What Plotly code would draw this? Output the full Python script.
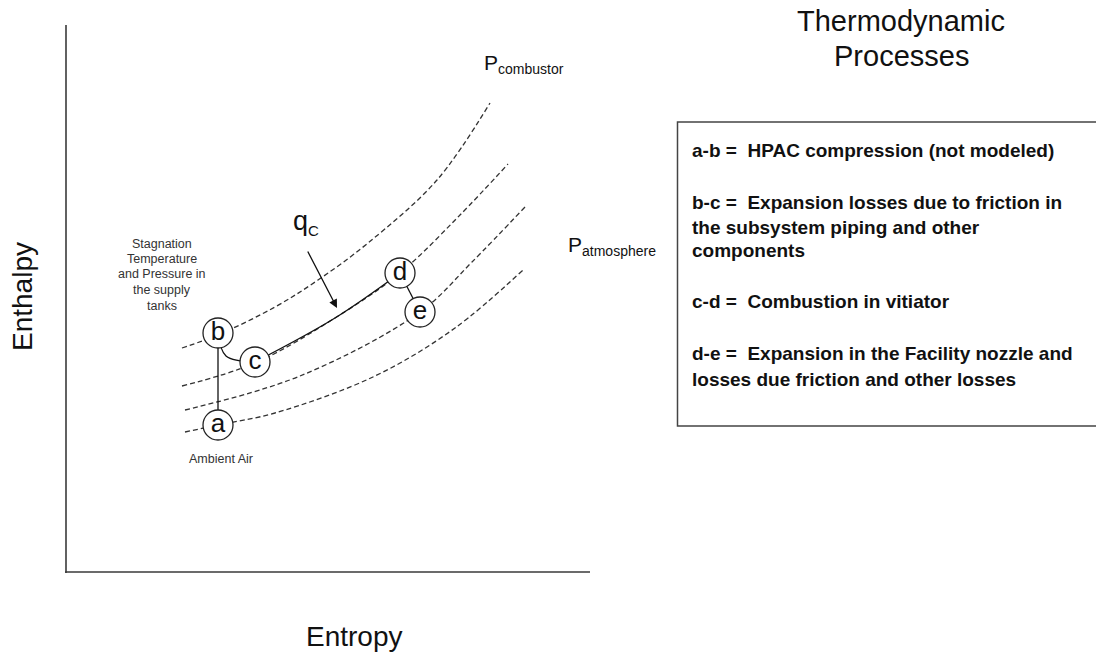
import plotly.graph_objects as go

# Canvas units (pixels of a 1096 x 654 drawing, y grows downward)
W, H = 1096, 654

# Constant-pressure (isobar) dashed curves
isobar1_x = [182, 220, 275, 318, 368, 437, 490]
isobar1_y = [348, 334, 307, 280, 243, 180, 103]
isobar2_x = [182, 255, 335, 400, 460, 508]
isobar2_y = [386, 363, 318, 273, 215, 164]
isobar3_x = [185, 300, 420, 472, 525]
isobar3_y = [410, 376, 312, 262, 207]
isobar4_x = [185, 218, 275, 375, 455, 523]
isobar4_y = [432, 425, 413, 376, 328, 270]

# State points
state_labels = ["a", "b", "c", "d", "e"]
state_x = [218, 218, 255, 400, 420]
state_y = [425, 333, 362, 273, 312]

# Process paths
ab_x, ab_y = [218, 218], [425, 333]
bc_x, bc_y = [218, 226, 255], [333, 356, 362]
cd_x, cd_y = [255, 335, 400], [362, 318, 273]
de_x, de_y = [400, 420], [273, 312]

# Axes of the diagram
yaxis_line_x, yaxis_line_y = [66, 66], [25, 573]
xaxis_line_x, xaxis_line_y = [65, 590], [572, 572]

stagnation_lines = ["Stagnation", "Temperature", "and Pressure in", "the supply", "tanks"]
stagnation_y = [244, 259, 274, 290, 306]

process_lines = [
    "a-b =  HPAC compression (not modeled)",
    "b-c =  Expansion losses due to friction in",
    "the subsystem piping and other",
    "components",
    "c-d =  Combustion in vitiator",
    "d-e =  Expansion in the Facility nozzle and",
    "losses due friction and other losses",
]
process_y = [150, 202, 227, 250, 301, 353, 379]

FONT = "Liberation Sans, Arial, sans-serif"

fig = go.Figure()

dash_style = dict(color="#333333", width=1.3, dash="5px,3px", shape="spline")
for xs, ys in [(isobar1_x, isobar1_y), (isobar2_x, isobar2_y),
               (isobar3_x, isobar3_y), (isobar4_x, isobar4_y)]:
    fig.add_trace(go.Scatter(x=xs, y=ys, mode="lines", line=dash_style,
                             hoverinfo="skip", showlegend=False))

# axis lines
for xs, ys in [(yaxis_line_x, yaxis_line_y), (xaxis_line_x, xaxis_line_y)]:
    fig.add_trace(go.Scatter(x=xs, y=ys, mode="lines",
                             line=dict(color="#3a3a3a", width=1.6),
                             hoverinfo="skip", showlegend=False))

for xs, ys, shp in [(ab_x, ab_y, "linear"), (bc_x, bc_y, "spline"),
                    (cd_x, cd_y, "spline"), (de_x, de_y, "linear")]:
    fig.add_trace(go.Scatter(x=xs, y=ys, mode="lines",
                             line=dict(color="#111111", width=1.3, shape=shp),
                             hoverinfo="skip", showlegend=False))

# state circles
fig.add_trace(go.Scatter(
    x=state_x, y=state_y, mode="markers+text", text=state_labels,
    textposition="middle center",
    textfont=dict(family=FONT, size=26, color="#111111"),
    marker=dict(size=30, color="white", line=dict(color="#222222", width=1.3)),
    hoverinfo="skip", showlegend=False))

ann = []
# heat addition arrow
ann.append(dict(x=337, y=308, ax=307, ay=250, xref="x", yref="y", axref="x", ayref="y",
                showarrow=True, arrowhead=2, arrowsize=1.3, arrowwidth=1.3,
                arrowcolor="#111111", text=""))
ann.append(dict(x=291, y=222, xref="x", yref="y", xanchor="left", yanchor="middle",
                showarrow=False,
                text='q<sub><span style="font-size:15px">C</span></sub>',
                font=dict(family=FONT, size=27, color="#111111")))
ann.append(dict(x=482, y=64, xref="x", yref="y", xanchor="left", yanchor="middle",
                showarrow=False,
                text='P<sub><span style="font-size:14px">combustor</span></sub>',
                font=dict(family=FONT, size=21, color="#111111")))
ann.append(dict(x=566, y=246, xref="x", yref="y", xanchor="left", yanchor="middle",
                showarrow=False,
                text='P<sub><span style="font-size:14px">atmosphere</span></sub>',
                font=dict(family=FONT, size=21, color="#111111")))
for t, yy in zip(stagnation_lines, stagnation_y):
    ann.append(dict(x=162, y=yy, xref="x", yref="y", showarrow=False, text=t,
                    font=dict(family=FONT, size=12.5, color="#333333")))
ann.append(dict(x=221, y=459, xref="x", yref="y", showarrow=False, text="Ambient Air",
                font=dict(family=FONT, size=12.5, color="#333333")))
ann.append(dict(x=22, y=297, xref="x", yref="y", showarrow=False, text="Enthalpy",
                textangle=-90, font=dict(family=FONT, size=28, color="#111111")))
ann.append(dict(x=354, y=636, xref="x", yref="y", showarrow=False, text="Entropy",
                font=dict(family=FONT, size=28, color="#111111")))
ann.append(dict(x=901, y=21, xref="x", yref="y", showarrow=False, text="Thermodynamic",
                font=dict(family=FONT, size=29, color="#111111")))
ann.append(dict(x=901, y=56, xref="x", yref="y", showarrow=False, text="Processes",
                font=dict(family=FONT, size=29, color="#111111")))
for t, yy in zip(process_lines, process_y):
    ann.append(dict(x=690, y=yy, xref="x", yref="y", xanchor="left", yanchor="middle",
                    showarrow=False, text="<b>" + t + "</b>",
                    font=dict(family=FONT, size=19, color="#111111")))

fig.update_layout(
    width=W, height=H,
    margin=dict(l=0, r=0, t=0, b=0),
    paper_bgcolor="white", plot_bgcolor="white",
    xaxis=dict(range=[0, W], visible=False, fixedrange=True),
    yaxis=dict(range=[H, 0], visible=False, fixedrange=True),
    annotations=ann,
    shapes=[dict(type="rect", xref="x", yref="y", x0=677.5, y0=122, x1=1100, y1=426,
                 line=dict(color="#444444", width=1.5), fillcolor="rgba(0,0,0,0)")],
)

fig.write_html(
    "out.html",
    config={"displayModeBar": False},
    post_script="document.body.style.margin='0';document.body.style.overflow='hidden';",
)
